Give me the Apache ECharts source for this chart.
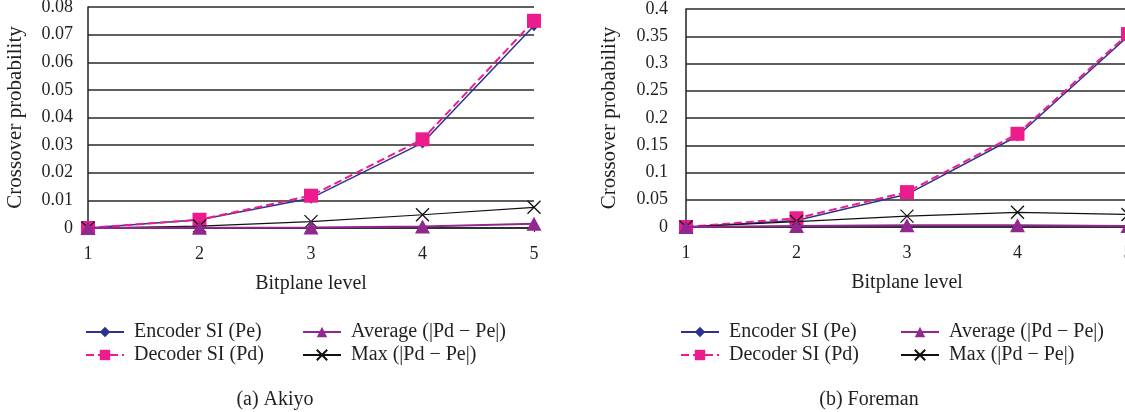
<!DOCTYPE html>
<html>
<head>
<meta charset="utf-8">
<script src="https://cdn.jsdelivr.net/npm/echarts@6/dist/echarts.min.js"></script>
<style>
	html, body { margin: 0; padding: 0; background: #fff; }
	#box { width: 1125px; height: 412px; }
</style>
</head>
<body>
<div id="box"></div>
<script>
var levels = ['1', '2', '3', '4', '5'];

// (a) Akiyo
var akiyoEnc = [0, 0.003, 0.0108, 0.0308, 0.0732];
var akiyoDec = [0, 0.003, 0.0117, 0.0321, 0.0750];
var akiyoAvg = [0, 0.0001, 0.0002, 0.0005, 0.0015];
var akiyoMax = [0, 0.0007, 0.0023, 0.0048, 0.0075];

// (b) Foreman
var foreEnc = [0, 0.012, 0.060, 0.167, 0.350];
var foreDec = [0, 0.016, 0.064, 0.171, 0.354];
var foreAvg = [0, 0.002, 0.003, 0.003, 0.002];
var foreMax = [0, 0.010, 0.020, 0.027, 0.023];

var names = ['Encoder SI (Pe)', 'Decoder SI (Pd)', 'Average (|Pd \u2212 Pe|)', 'Max (|Pd \u2212 Pe|)'];

var font = '"Liberation Serif", "DejaVu Serif", serif';
var ink = '#231f20';
var crossPath = 'path://M0,0L10,10M10,0L0,10';

function makeSeries(idx, enc, dec, avg, mx) {
	return [{
		name: names[0], type: 'line', xAxisIndex: idx, yAxisIndex: idx, data: enc,
		symbol: 'diamond', symbolSize: [10, 11], z: 2,
		lineStyle: { color: '#2e3192', width: 1.5 },
		itemStyle: { color: '#2e3192' }
	}, {
		name: names[1], type: 'line', xAxisIndex: idx, yAxisIndex: idx, data: dec,
		symbol: 'rect', symbolSize: 14, z: 3,
		lineStyle: { color: '#ec1c8c', width: 2, type: [8, 4] },
		itemStyle: { color: '#ec1c8c' }
	}, {
		name: names[3], type: 'line', xAxisIndex: idx, yAxisIndex: idx, data: mx,
		symbol: crossPath, symbolSize: 13, z: 4,
		lineStyle: { color: '#111', width: 1.2 },
		itemStyle: { color: 'none', borderColor: '#111', borderWidth: 1.3 }
	}, {
		name: names[2], type: 'line', xAxisIndex: idx, yAxisIndex: idx, data: avg,
		symbol: 'triangle', symbolSize: [15, 14], z: 5,
		lineStyle: { color: '#92278f', width: 2 },
		itemStyle: { color: '#92278f' }
	}];
}

function makeX(idx) {
	return {
		gridIndex: idx,
		type: 'category',
		data: levels,
		boundaryGap: false,
		name: 'Bitplane level',
		nameLocation: 'middle',
		nameGap: 46,
		nameTextStyle: { fontFamily: font, fontSize: 20, color: ink },
		axisLine: { show: true, lineStyle: { color: '#222', width: 1.5 } },
		axisTick: { show: true, length: 4, lineStyle: { color: '#222' } },
		axisLabel: { fontFamily: font, fontSize: 18, color: ink, margin: 17, showMaxLabel: true, hideOverlap: false },
		splitLine: { show: false }
	};
}

function makeY(idx, max, interval, margin, gap) {
	return {
		gridIndex: idx,
		type: 'value',
		min: 0,
		max: max,
		interval: interval,
		name: 'Crossover probability',
		nameLocation: 'middle',
		nameRotate: 90,
		nameGap: gap,
		nameTextStyle: { fontFamily: font, fontSize: 21, color: ink },
		axisLine: { show: true, lineStyle: { color: '#222', width: 1.5 } },
		axisTick: { show: false },
		axisLabel: { fontFamily: font, fontSize: 18, color: ink, margin: margin },
		splitLine: { show: true, lineStyle: { color: '#2a2a2a', width: 1.5 } }
	};
}

function makeLegend(left, data) {
	return {
		orient: 'vertical',
		left: left,
		top: 322,
		padding: 0,
		data: data,
		itemWidth: 38,
		itemHeight: 13,
		itemGap: 3,
		selectedMode: false,
		textStyle: { fontFamily: font, fontSize: 20, color: ink, padding: [0, 0, 0, 5] }
	};
}

var myChart = echarts.init(document.getElementById('box'));
var option = {
	animation: false,
	backgroundColor: '#fff',
	title: [{
		text: '(a) Akiyo', left: 270, top: 385, textAlign: 'center',
		textStyle: { fontFamily: font, fontSize: 20, fontWeight: 'normal', color: ink }
	}, {
		text: '(b) Foreman', left: 864, top: 385, textAlign: 'center',
		textStyle: { fontFamily: font, fontSize: 20, fontWeight: 'normal', color: ink }
	}],
	grid: [
		{ left: 88, top: 7, width: 446, height: 221, outerBoundsMode: 'none' },
		{ left: 686, top: 9, width: 442, height: 218, outerBoundsMode: 'none' }
	],
	legend: [
		makeLegend(85, [names[0], names[1]]),
		makeLegend(302, [names[2], names[3]]),
		makeLegend(680, [names[0], names[1]]),
		makeLegend(900, [names[2], names[3]])
	],
	xAxis: [makeX(0), makeX(1)],
	yAxis: [makeY(0, 0.08, 0.01, 15, 62), makeY(1, 0.4, 0.05, 18, 66)],
	series: makeSeries(0, akiyoEnc, akiyoDec, akiyoAvg, akiyoMax)
		.concat(makeSeries(1, foreEnc, foreDec, foreAvg, foreMax))
};

myChart.clear();
myChart.setOption(option);
</script>
</body>
</html>
